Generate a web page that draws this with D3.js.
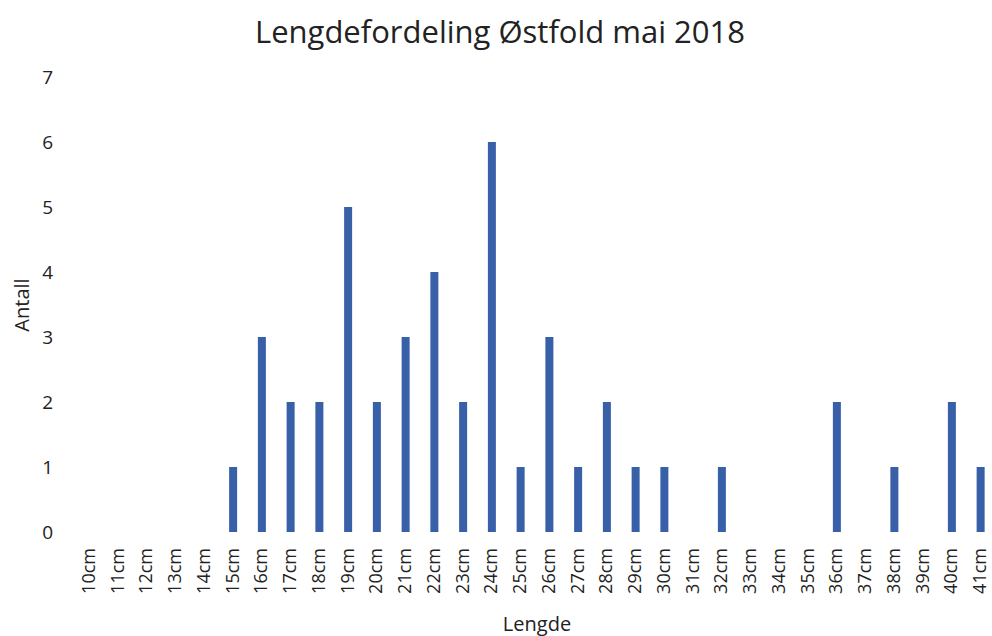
<!DOCTYPE html>
<html>
<head>
<meta charset="utf-8">
<script src="https://cdn.jsdelivr.net/npm/d3@7"></script>
<style>
    body { margin: 0; background: #fff; }
    text { font-family: "Open Sans", sans-serif; fill: #222; }
</style>
</head>
<body>
<svg id="chart" width="992" height="636"></svg>
<script>
const categories = ["10cm", "11cm", "12cm", "13cm", "14cm", "15cm", "16cm", "17cm", "18cm", "19cm",
    "20cm", "21cm", "22cm", "23cm", "24cm", "25cm", "26cm", "27cm", "28cm", "29cm", "30cm",
    "31cm", "32cm", "33cm", "34cm", "35cm", "36cm", "37cm", "38cm", "39cm", "40cm", "41cm"];
const counts = [0, 0, 0, 0, 0, 1, 3, 2, 2, 5,
    2, 3, 4, 2, 6, 1, 3, 1, 2, 1, 1,
    0, 1, 0, 0, 0, 2, 0, 1, 0, 2, 1];
const yTicks = [0, 1, 2, 3, 4, 5, 6, 7];

const svg = d3.select("#chart");

// plot area
const plotLeft = 75, plotRight = 995, plotTop = 77, plotBottom = 532;

const x = d3.scaleBand().domain(categories).range([plotLeft, plotRight]);
const y = d3.scaleLinear().domain([0, 7]).range([plotBottom, plotTop]);
const barWidth = 8;

svg.append("text")
    .attr("x", 500).attr("y", 43)
    .attr("text-anchor", "middle")
    .style("font-size", "31px")
    .text("Lengdefordeling Østfold mai 2018");

// y axis labels only, no line
const yAxis = svg.append("g")
    .attr("transform", `translate(${plotLeft - 22},0)`)
    .call(d3.axisLeft(y).tickValues(yTicks).tickFormat(d3.format("d")).tickSize(0).tickPadding(0));
yAxis.select(".domain").remove();
yAxis.selectAll("text")
    .style("font-size", "19px")
    .style("font-family", "'Open Sans', sans-serif")
    .attr("fill", "#222");

const xAxis = svg.append("g")
    .attr("transform", `translate(0,${plotBottom})`)
    .call(d3.axisBottom(x).tickSize(0));
xAxis.select(".domain").remove();
xAxis.selectAll("text")
    .style("font-size", "18px")
    .style("font-family", "'Open Sans', sans-serif")
    .attr("fill", "#222")
    .attr("transform", "rotate(-90)")
    .attr("text-anchor", "end")
    .attr("x", -16)
    .attr("y", 0)
    .attr("dy", "0.3em");

svg.selectAll(".bar")
    .data(categories.map((c, i) => ({ cat: c, n: counts[i] })).filter(d => d.n > 0))
    .enter().append("rect")
    .attr("class", "bar")
    .attr("x", d => x(d.cat) + x.bandwidth() / 2 - barWidth / 2)
    .attr("y", d => y(d.n))
    .attr("width", barWidth)
    .attr("height", d => y(0) - y(d.n))
    .attr("fill", "#3760a8");

svg.append("text")
    .attr("x", 537).attr("y", 631)
    .attr("text-anchor", "middle")
    .style("font-size", "20px")
    .text("Lengde");

svg.append("text")
    .attr("transform", "translate(29,305) rotate(-90)")
    .attr("text-anchor", "middle")
    .style("font-size", "20px")
    .text("Antall");
</script>
</body>
</html>
